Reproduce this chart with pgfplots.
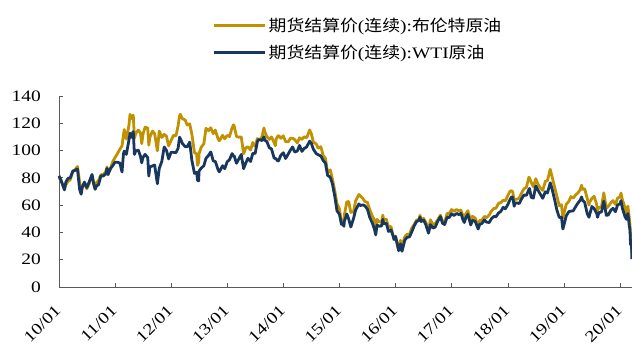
\documentclass[border=0pt]{standalone}
\usepackage{fontspec}
\setmainfont{Liberation Serif}[FakeStretch=1.22]
\newfontfamily\cjk{Noto Sans CJK SC}[FakeStretch=1.12]
\usepackage{pgfplots}
\usepackage{pgfplotstable}
\pgfplotsset{compat=1.18}
\definecolor{brent}{RGB}{192,145,0}
\definecolor{wti}{RGB}{23,55,94}
\definecolor{axgray}{RGB}{90,90,90}
\pgfplotstableread{
t b w
2010.000 80.1 81.5
2010.038 78.0 78.0
2010.096 71.9 71.2
2010.123 75.0 77.0
2010.162 77.5 79.7
2010.200 78.5 80.0
2010.247 84.9 84.9
2010.285 86.0 85.5
2010.329 88.3 86.5
2010.367 77.0 71.6
2010.395 69.5 68.0
2010.414 74.0 73.0
2010.452 75.7 76.9
2010.496 72.0 72.9
2010.534 75.5 76.6
2010.589 82.0 82.5
2010.619 75.5 75.4
2010.644 72.0 71.6
2010.666 76.5 73.9
2010.704 78.0 75.0
2010.748 82.3 81.6
2010.786 82.5 81.3
2010.833 84.5 82.9
2010.855 88.0 86.9
2010.874 84.5 82.3
2010.915 86.0 86.8
2010.953 91.5 88.6
2010.997 94.8 91.4
2011.038 97.5 91.5
2011.085 101.0 90.8
2011.123 103.5 84.3
2011.148 111.2 97.3
2011.162 115.4 99.6
2011.200 108.5 97.2
2011.247 118.7 107.9
2011.266 126.6 112.8
2011.285 123.4 109.7
2011.323 125.9 113.9
2011.344 109.1 97.2
2011.367 112.6 99.7
2011.414 115.0 100.3
2011.452 113.0 95.8
2011.474 105.1 91.0
2011.496 111.9 95.0
2011.534 117.2 97.2
2011.581 116.5 94.9
2011.600 104.0 81.3
2011.619 109.8 87.9
2011.666 114.3 88.8
2011.704 112.4 89.4
2011.753 99.8 75.7
2011.786 114.3 86.8
2011.833 109.6 92.2
2011.874 111.9 102.6
2011.915 110.5 100.2
2011.953 103.4 93.9
2011.997 107.4 98.8
2012.038 111.0 98.7
2012.085 110.9 98.5
2012.123 118.4 101.8
2012.148 125.5 109.8
2012.162 126.6 108.8
2012.200 123.3 105.1
2012.247 122.5 103.0
2012.285 118.7 102.8
2012.329 119.6 106.2
2012.367 112.0 93.0
2012.414 98.4 83.2
2012.452 97.6 84.0
2012.469 89.2 78.2
2012.488 91.4 77.7
2012.496 97.8 85.0
2012.534 102.4 87.1
2012.581 105.0 88.9
2012.619 116.3 94.3
2012.666 114.6 96.5
2012.704 116.7 99.0
2012.748 112.4 92.5
2012.786 115.0 91.9
2012.833 108.7 86.2
2012.855 107.2 84.4
2012.871 108.0 85.5
2012.915 111.2 88.9
2012.953 108.6 86.7
2012.997 111.1 91.8
2013.038 110.3 93.3
2013.085 116.8 97.8
2013.110 118.9 95.7
2013.123 117.7 95.9
2013.162 110.4 90.7
2013.200 109.8 93.5
2013.247 110.0 97.1
2013.290 97.7 86.7
2013.329 102.0 91.0
2013.367 102.8 94.3
2013.414 100.4 92.0
2013.452 105.9 97.9
2013.496 103.0 98.0
2013.534 108.8 106.3
2013.551 108.1 108.0
2013.581 107.9 107.9
2013.619 110.4 107.3
2013.652 116.6 110.1
2013.666 114.0 107.7
2013.704 110.1 106.6
2013.748 108.2 102.0
2013.786 110.0 101.2
2013.833 105.9 94.6
2013.855 103.5 94.2
2013.871 108.5 93.8
2013.898 110.5 92.3
2013.915 111.0 92.7
2013.953 109.0 96.6
2013.997 110.8 98.4
2014.038 106.5 94.2
2014.085 106.4 97.5
2014.123 109.1 100.3
2014.162 109.1 102.6
2014.200 108.0 98.9
2014.247 105.6 99.7
2014.285 109.4 103.8
2014.329 108.1 99.4
2014.367 110.1 101.5
2014.414 109.4 102.7
2014.466 115.1 106.9
2014.496 112.3 105.3
2014.534 106.0 100.9
2014.581 105.0 97.9
2014.619 101.8 96.9
2014.666 102.8 96.0
2014.704 96.7 92.9
2014.748 94.2 90.7
2014.786 83.8 81.8
2014.833 85.9 80.5
2014.871 79.3 75.8
2014.915 70.2 66.2
2014.953 61.1 55.9
2014.997 57.3 53.3
2015.033 46.6 45.9
2015.052 48.0 46.4
2015.077 48.5 44.5
2015.085 53.0 48.2
2015.129 62.5 53.5
2015.162 62.6 49.8
2015.200 54.7 44.0
2015.247 55.1 50.1
2015.285 63.0 56.4
2015.344 67.8 60.9
2015.367 66.8 59.7
2015.414 64.9 60.2
2015.452 62.6 59.5
2015.496 62.0 57.0
2015.534 57.0 51.4
2015.581 52.2 47.1
2015.619 49.2 42.5
2015.644 42.7 38.2
2015.666 49.6 45.4
2015.704 47.8 44.6
2015.748 47.7 44.7
2015.770 52.7 49.6
2015.786 49.0 46.4
2015.833 49.6 46.6
2015.871 44.0 40.7
2015.915 44.4 41.9
2015.953 37.5 37.4
2015.970 36.4 34.7
2015.997 37.3 37.0
2016.038 29.0 29.4
2016.052 27.9 26.6
2016.085 34.2 31.6
2016.112 30.1 26.2
2016.162 36.8 34.4
2016.200 38.7 36.3
2016.247 38.7 36.8
2016.285 43.1 40.4
2016.329 45.8 44.8
2016.367 48.8 47.7
2016.414 49.7 49.0
2016.433 52.5 51.2
2016.452 48.9 48.0
2016.496 50.4 49.0
2016.534 47.6 45.9
2016.584 42.1 39.5
2016.619 49.2 45.7
2016.666 45.5 43.2
2016.704 46.6 43.9
2016.748 49.2 48.2
2016.797 52.7 51.6
2016.833 48.3 46.7
2016.871 46.9 45.8
2016.915 53.9 51.1
2016.953 53.9 51.0
2016.997 56.8 53.7
2017.038 55.5 52.4
2017.085 56.8 53.9
2017.123 55.8 53.1
2017.162 56.4 54.0
2017.200 51.8 48.9
2017.222 50.6 47.3
2017.247 53.5 50.6
2017.285 55.9 53.2
2017.337 48.4 45.5
2017.367 51.8 48.8
2017.414 50.6 48.3
2017.469 44.8 42.5
2017.496 48.8 46.0
2017.534 48.9 46.5
2017.581 51.8 49.2
2017.619 50.8 47.5
2017.666 52.8 47.3
2017.704 55.6 50.0
2017.748 57.5 51.7
2017.786 57.8 51.5
2017.833 61.4 54.3
2017.871 61.9 55.3
2017.915 63.7 58.4
2017.953 63.2 57.3
2017.997 66.9 60.4
2018.038 70.3 64.3
2018.066 70.5 66.1
2018.085 69.7 65.8
2018.110 62.8 59.2
2018.123 64.3 61.3
2018.162 64.4 61.6
2018.200 65.1 61.2
2018.247 69.3 64.9
2018.285 72.0 67.4
2018.329 73.1 67.2
2018.373 80.5 71.5
2018.384 79.8 72.2
2018.414 76.8 65.8
2018.452 73.4 65.1
2018.496 79.4 74.1
2018.534 75.3 71.0
2018.581 72.4 67.7
2018.619 70.8 65.0
2018.666 77.4 69.8
2018.704 78.1 68.9
2018.753 86.3 76.4
2018.786 80.8 71.8
2018.833 72.9 63.7
2018.871 66.6 56.5
2018.915 59.5 50.9
2018.953 60.3 51.2
2018.978 50.5 42.5
2018.997 53.8 45.4
2019.038 60.6 52.1
2019.085 62.8 55.3
2019.123 66.3 55.6
2019.162 65.1 55.8
2019.200 67.2 58.5
2019.247 69.0 61.6
2019.285 71.2 63.4
2019.312 74.6 66.0
2019.329 71.6 63.6
2019.367 72.0 62.0
2019.414 64.5 53.5
2019.444 60.0 51.1
2019.452 62.0 52.5
2019.496 65.0 59.0
2019.534 66.5 57.6
2019.581 60.5 53.9
2019.597 56.2 51.1
2019.619 58.2 54.5
2019.666 58.7 55.0
2019.707 69.0 62.9
2019.753 57.7 52.5
2019.786 59.0 52.8
2019.833 61.7 56.2
2019.871 63.3 57.7
2019.915 60.5 55.2
2019.953 65.2 60.1
2019.997 66.0 61.1
2020.014 68.9 63.3
2020.038 64.0 57.8
2020.085 58.2 51.6
2020.110 53.3 49.6
2020.137 59.3 53.8
2020.162 50.5 44.8
2020.175 45.3 41.3
2020.184 34.4 31.1
2020.192 33.2 31.5
2020.203 30.0 28.7
2020.208 24.9 20.4
}\oil
\begin{document}
\begin{tikzpicture}
\useasboundingbox (-59bp,-58bp) rectangle (573bp,287bp);
\begin{axis}[
  scale only axis,
  width=573bp, height=191bp,
  xmin=2010, xmax=2020.21,
  ymin=0, ymax=140,
  axis x line*=bottom, axis y line*=left,
  axis line style={axgray, line width=0.8bp},
  tick style={axgray, line width=0.8bp},
  tick align=inside,
  major tick length=4bp,
  xtick={2010,2011,...,2020},
  xticklabels={10/01,11/01,12/01,13/01,14/01,15/01,16/01,17/01,18/01,19/01,20/01},
  ytick={0,20,...,140},
  /pgf/number format/assume math mode=true,
  tick label style={font=\fontsize{16}{18}\selectfont, inner sep=0pt},
  yticklabel style={anchor=east, xshift=-18bp},
  xticklabel style={xshift=-1bp, yshift=-21bp, rotate=45, anchor=east},
  legend style={draw=none, fill=none, at={(0.267,1.41)}, anchor=north west,
    inner xsep=0pt, inner ysep=0pt, row sep=12bp,
    font=\fontsize{16}{18}\selectfont,
    nodes={inner xsep=2.5bp, inner ysep=0pt}},
  legend cell align=left,
  legend image code/.code={\draw[#1, line width=3bp] (0bp,0bp) -- (51bp,0bp);},
  clip=false,
]
\addplot[brent, line width=2.8bp, line join=round] table[x=t, y=b] {\oil};
\addlegendentry{{\cjk 期货结算价}({\cjk 连续}):{\cjk 布伦特原油}}
\addplot[wti, line width=2.8bp, line join=round] table[x=t, y=w] {\oil};
\addlegendentry{{\cjk 期货结算价}({\cjk 连续}):WTI{\cjk 原油}}
\end{axis}
\end{tikzpicture}
\end{document}
